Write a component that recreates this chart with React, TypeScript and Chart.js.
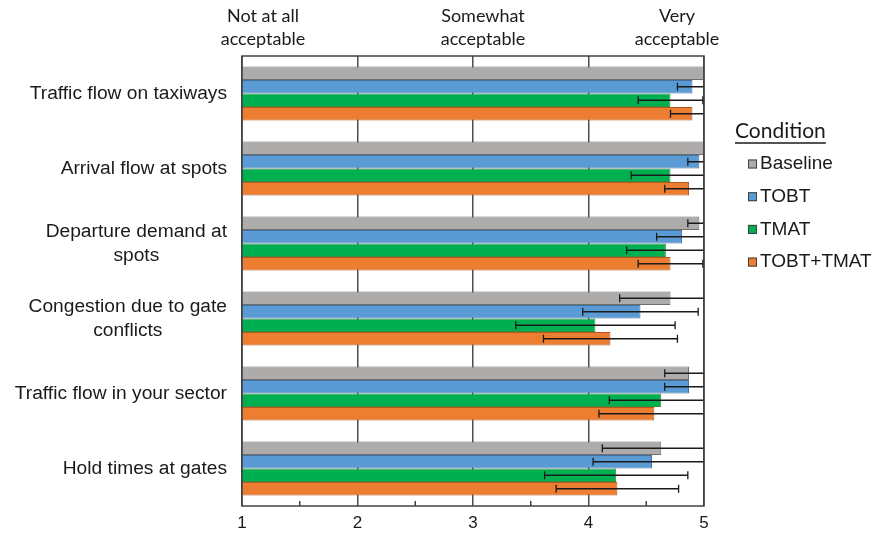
import React, { useEffect, useRef } from "react";
import { Chart, registerables } from "chart.js";

Chart.register(...registerables);

const categories: string[][] = [
  ["Traffic flow on taxiways"],
  ["Arrival flow at spots"],
  ["Departure demand at", "spots"],
  ["Congestion due to gate", "conflicts"],
  ["Traffic flow in your sector"],
  ["Hold times at gates"],
];

const seriesNames = ["Baseline", "TOBT", "TMAT", "TOBT+TMAT"];

const baselineMean = [5.0, 5.0, 4.96, 4.71, 4.87, 4.63];
const baselineSD = [0, 0, 0.1, 0.44, 0.21, 0.51];
const tobtMean = [4.9, 4.96, 4.81, 4.45, 4.87, 4.55];
const tobtSD = [0.13, 0.1, 0.22, 0.5, 0.21, 0.51];
const tmatMean = [4.71, 4.71, 4.67, 4.06, 4.63, 4.24];
const tmatSD = [0.28, 0.34, 0.34, 0.69, 0.45, 0.62];
const bothMean = [4.9, 4.87, 4.71, 4.19, 4.57, 4.25];
const bothSD = [0.19, 0.21, 0.28, 0.58, 0.48, 0.53];

const xTickValues = [1, 2, 3, 4, 5];
const minorTickValues = [1.5, 2.5, 3.5, 4.5];
const scaleAnchors = [
  { lines: ["Not at all", "acceptable"], x: 263 },
  { lines: ["Somewhat", "acceptable"], x: 483 },
  { lines: ["Very", "acceptable"], x: 677 },
];

const fills = ["#AEABAB", "#5B9BD5", "#00B050", "#ED7D31"];
const borders = ["#6E6E6E", "#41719C", "#3C8D40", "#AE5A21"];

const means = [baselineMean, tobtMean, tmatMean, bothMean];
const sds = [baselineSD, tobtSD, tmatSD, bothSD];

const ARIAL = "'Liberation Sans', Arial, sans-serif";
const CALIBRI = "Lato, 'Open Sans', sans-serif";

const overlayPlugin = {
  id: "overlay",
  afterDatasetsDraw(chart: any) {
    const ctx = chart.ctx;
    const xs = chart.scales.x;
    const area = chart.chartArea;
    ctx.save();
    // error bars
    ctx.strokeStyle = "#1a1a1a";
    ctx.lineWidth = 1.3;
    chart.data.datasets.forEach((ds: any, di: number) => {
      const meta = chart.getDatasetMeta(di);
      meta.data.forEach((bar: any, i: number) => {
        const sd = sds[di][i];
        if (!sd) return;
        const m = means[di][i];
        const lo = m - sd;
        const hi = m + sd;
        const y = bar.y;
        const xl = xs.getPixelForValue(lo);
        const xh = xs.getPixelForValue(Math.min(hi, 5));
        ctx.beginPath();
        ctx.moveTo(xl, y);
        ctx.lineTo(xh, y);
        ctx.moveTo(xl, y - 4);
        ctx.lineTo(xl, y + 4);
        if (hi <= 5) {
          ctx.moveTo(xh, y - 4);
          ctx.lineTo(xh, y + 4);
        }
        ctx.stroke();
      });
    });
    // frame
    ctx.strokeStyle = "#404040";
    ctx.lineWidth = 1.5;
    ctx.strokeRect(area.left, area.top, area.right - area.left, area.bottom - area.top);
    // minor ticks
    ctx.beginPath();
    minorTickValues.forEach((v) => {
      const x = xs.getPixelForValue(v);
      ctx.moveTo(x, area.bottom);
      ctx.lineTo(x, area.bottom - 5);
    });
    ctx.stroke();
    ctx.restore();
  },
  afterDraw(chart: any) {
    const ctx = chart.ctx;
    const ys = chart.scales.y;
    ctx.save();
    // category labels
    ctx.fillStyle = "#1a1a1a";
    ctx.font = `19.2px ${ARIAL}`;
    ctx.textAlign = "center";
    ctx.textBaseline = "middle";
    const right = 227;
    const lh = 24;
    categories.forEach((lines, i) => {
      const yc = ys.getPixelForValue(i);
      const maxW = Math.max(...lines.map((l) => ctx.measureText(l).width));
      const cx = right - maxW / 2;
      const y0 = yc - ((lines.length - 1) * lh) / 2;
      lines.forEach((l, k) => ctx.fillText(l, cx, y0 + k * lh));
    });
    // scale anchor labels
    ctx.font = `18px ${CALIBRI}`;
    ctx.fillStyle = "#1a1a1a";
    scaleAnchors.forEach((a) => {
      a.lines.forEach((l, k) => ctx.fillText(l, a.x, 16 + k * 23));
    });
    // legend
    ctx.textAlign = "left";
    ctx.font = `21px ${CALIBRI}`;
    ctx.fillText("Condition", 735, 131);
    const tw = ctx.measureText("Condition").width;
    ctx.strokeStyle = "#1a1a1a";
    ctx.lineWidth = 1.3;
    ctx.beginPath();
    ctx.moveTo(735, 143);
    ctx.lineTo(735 + tw, 143);
    ctx.stroke();
    ctx.font = `19px ${ARIAL}`;
    seriesNames.forEach((name, i) => {
      const y = 164 + i * 32.7;
      ctx.fillStyle = fills[i];
      ctx.fillRect(748, y - 4.5, 9, 9);
      ctx.strokeStyle = "#404040";
      ctx.lineWidth = 1;
      ctx.strokeRect(748.5, y - 4, 8, 8);
      ctx.fillStyle = "#1a1a1a";
      ctx.fillText(name, 760, y);
    });
    ctx.restore();
  },
};

export default function App() {
  const ref = useRef<HTMLCanvasElement | null>(null);
  useEffect(() => {
    if (!ref.current) return;
    const chart = new Chart(ref.current, {
      type: "bar",
      data: {
        labels: categories.map((c) => c.join(" ")),
        datasets: seriesNames.map((name, i) => ({
          label: name,
          data: means[i],
          backgroundColor: fills[i],
          borderColor: borders[i],
          borderWidth: 1,
          categoryPercentage: 0.72,
          barPercentage: 1,
        })),
      },
      options: {
        indexAxis: "y",
        animation: false,
        responsive: true,
        maintainAspectRatio: false,
        layout: { padding: { left: 242, right: 174, top: 56, bottom: 0 } },
        plugins: {
          legend: { display: false },
          tooltip: { enabled: false },
        },
        scales: {
          x: {
            min: 1,
            max: 5,
            afterBuildTicks: (scale: any) => {
              scale.ticks = xTickValues.map((v) => ({ value: v }));
            },
            afterFit: (scale: any) => {
              scale.height = 27;
            },
            grid: {
              color: "#4d4d4d",
              lineWidth: 1.5,
              drawTicks: false,
            },
            border: { display: false },
            ticks: {
              color: "#1a1a1a",
              font: { family: ARIAL, size: 17 },
              padding: 7,
            },
          },
          y: {
            display: false,
            grid: { display: false },
          },
        },
      },
      plugins: [overlayPlugin],
    } as any);
    return () => chart.destroy();
  }, []);
  return (
    <div style={{ position: "fixed", left: 0, top: 0, width: 878, height: 533, background: "#fff" }}>
      <canvas ref={ref} />
    </div>
  );
}
